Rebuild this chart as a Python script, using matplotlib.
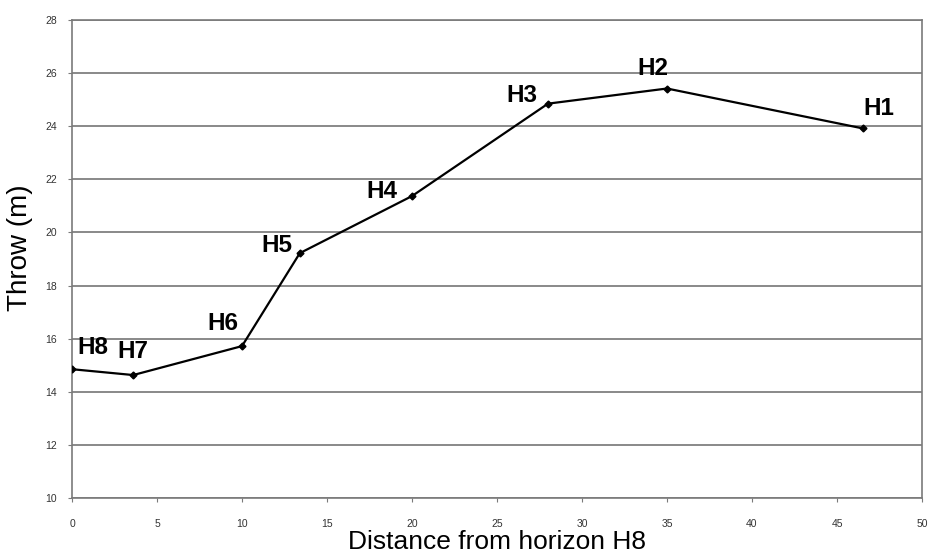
import matplotlib
matplotlib.use("Agg")
import matplotlib.pyplot as plt

# throw measured along the fault, horizon H8 taken as the origin
horizons = ["H8", "H7", "H6", "H5", "H4", "H3", "H2", "H1"]
distance = [0.0, 3.6, 10.0, 13.4, 20.0, 28.0, 35.0, 46.5]
throw = [14.85, 14.63, 15.72, 19.22, 21.37, 24.85, 25.42, 23.92]

# where each name sits relative to its point (pixels)
label_offsets = [(21, 22), (0, 24), (-19, 23), (-23, 8), (-30, 5), (-26, 8), (-14, 20), (16, 20)]

plt.rcParams["font.family"] = ["Liberation Sans", "DejaVu Sans"]

fig = plt.figure(figsize=(9.32, 5.59), dpi=100)
ax = fig.add_axes([72 / 932, 1 - 498 / 559, 850 / 932, 478 / 559])

ax.plot(distance, throw, color="black", lw=1.6, marker="D", ms=3.5, zorder=3)

for name, x, y, off in zip(horizons, distance, throw, label_offsets):
    ax.annotate(name, (x, y), xytext=off, textcoords="offset pixels",
                ha="center", va="center", fontsize=17.5, fontweight="bold")

ax.set_xlim(0, 50)
ax.set_ylim(10, 28)
ax.set_xticks(range(0, 51, 5))
ax.set_yticks(range(10, 29, 2))
ax.grid(axis="y", color="#808080", lw=1.3)
ax.set_axisbelow(True)

for side in ["top", "right", "bottom", "left"]:
    ax.spines[side].set_color("#7a7a7a")
    ax.spines[side].set_linewidth(1.2)

ax.tick_params(axis="both", length=3, color="#7a7a7a", labelsize=7.5, labelcolor="#333333")
ax.tick_params(axis="x", pad=12)
ax.tick_params(axis="y", pad=8)

ax.set_xlabel("Distance from horizon H8", fontsize=19, labelpad=1)
ax.set_ylabel("Throw (m)", fontsize=20)
ax.yaxis.set_label_coords(-0.046, 0.524)

fig.savefig("out.png", dpi=100, facecolor="white")
